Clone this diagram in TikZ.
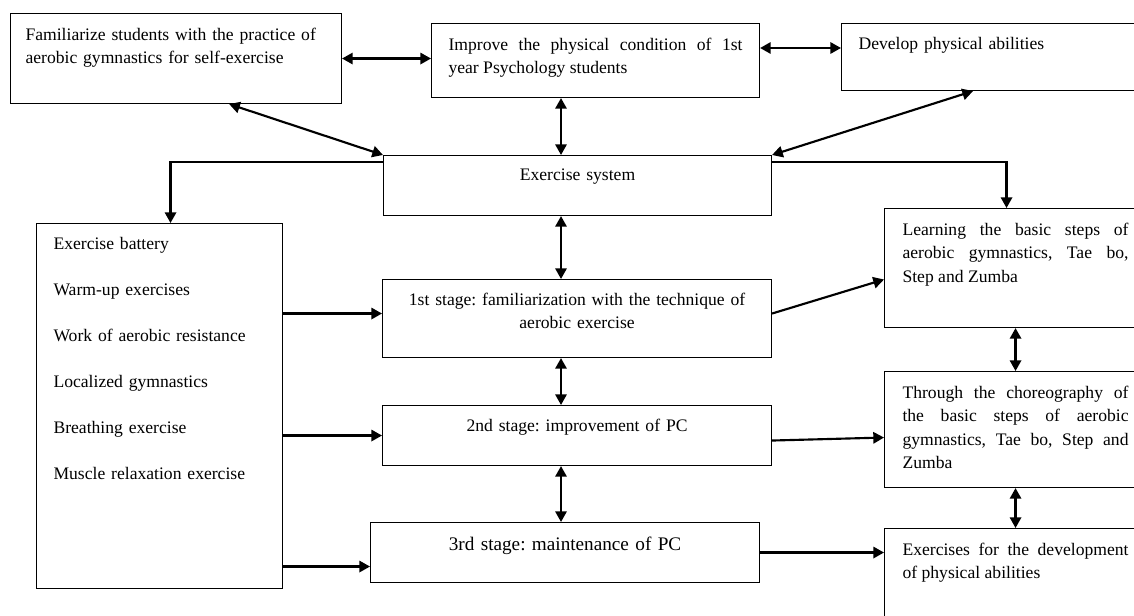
\documentclass[tikz,border=0pt]{standalone}
\usepackage{fontspec}
\setmainfont{Liberation Serif}
\usetikzlibrary{arrows.meta,calc}
\frenchspacing
\hyphenpenalty=10000
\tolerance=10000
\hbadness=10000
\tikzset{
  box/.style={draw, line width=0.8pt, anchor=north west, inner ysep=0pt, inner xsep=12.75pt,
    font=\fontsize{13.2}{17.5}\selectfont},
  link/.style={line width=1.6pt, -{Triangle[length=8pt,width=8.5pt]}},
  both/.style={line width=1.6pt, {Triangle[length=8pt,width=8.5pt]}-{Triangle[length=8pt,width=8.5pt]}}
}
\begin{document}
\begin{tikzpicture}[x=0.75pt,y=-0.75pt]
  \useasboundingbox (0,0) rectangle (1134,616);
  \node[box, inner xsep=11.25pt, text width=225.75pt, text height=20.25pt, text depth=47.25pt, align=left] (fam) at (10,13)
    {Familiarize students with the practice of\\aerobic gymnastics for self-exercise};
  \node[box, text width=220.5pt, text height=20.25pt, text depth=35.25pt, align=justify] (imp) at (431,23)
    {Improve the physical condition of 1st\linebreak year Psychology students};
  \node[box, text width=220.5pt, text height=19.5pt, text depth=30.75pt, align=left] (dev) at (841,23)
    {Develop physical abilities};
  \node[box, text width=265.5pt, text height=18.75pt, text depth=26.25pt, align=center] (sys) at (383,155)
    {Exercise system};
  \node[box, text width=159pt, text height=19.5pt, text depth=254.25pt, align=left,
    font=\fontsize{13.2}{34.5}\selectfont] (bat) at (36,223)
    {Exercise battery\\Warm-up exercises\\Work of aerobic resistance\\Localized gymnastics\\Breathing exercise\\Muscle relaxation exercise};
  \node[box, text width=266.25pt, text height=19.5pt, text depth=39pt, align=center] (s1) at (382,279)
    {1st stage: familiarization with the technique of\\aerobic exercise};
  \node[box, text width=266.25pt, text height=19.5pt, text depth=25.5pt, align=center] (s2) at (382,405)
    {2nd stage: improvement of PC};
  \node[box, text width=266.25pt, text height=21pt, text depth=24pt, align=center,
    font=\fontsize{14.4}{17.5}\selectfont] (s3) at (370,522)
    {3rd stage: maintenance of PC};
  \node[box, inner xsep=13.5pt, text width=169.5pt, text height=20.25pt, text depth=69pt, align=justify] (ln) at (884,208)
    {Learning the basic steps of\linebreak aerobic gymnastics, Tae bo,\linebreak Step and Zumba};
  \node[box, inner xsep=13.5pt, text width=169.5pt, text height=20.25pt, text depth=66.75pt, align=justify] (th) at (884,371)
    {Through the choreography of\linebreak the basic steps of aerobic\linebreak gymnastics, Tae bo, Step and\linebreak Zumba};
  \node[box, inner xsep=13.5pt, text width=169.5pt, text height=20.25pt, text depth=67.5pt, align=justify] (ex) at (884,528)
    {Exercises for the development\linebreak of physical abilities};
  \coordinate (spine) at (561,0);
  \begin{scope}[both]
    \draw (fam.east) -- (fam.east -| imp.west);
    \draw ([yshift=-18.75pt]imp.north east) -- ([yshift=-18.75pt]dev.north west);
    \draw (spine |- imp.south) -- (spine |- sys.north);
    \draw ($(fam.south west)!0.66!(fam.south east)$) -- (sys.north west);
    \draw ([xshift=99pt]dev.south west) -- (sys.north east);
    \draw (spine |- sys.south) -- (spine |- s1.north);
    \draw (spine |- s1.south) -- (spine |- s2.north);
    \draw (spine |- s2.south) -- (spine |- s3.north);
    \draw (ln.south) -- (ln.south |- th.north);
    \draw (th.south) -- (th.south |- ex.north);
  \end{scope}
  \begin{scope}[link]
    \draw ([yshift=-5.25pt]sys.north west) -| ([xshift=8.25pt]bat.north);
    \draw ([yshift=-5.25pt]sys.north east) -| ([xshift=-6.75pt]ln.north);
    \draw ([yshift=3.75pt]bat.east |- s1.west) -- ([yshift=3.75pt]s1.west);
    \draw (bat.east |- s2.west) -- (s2.west);
    \draw ([yshift=-10.5pt]bat.east |- s3.west) -- ([yshift=-10.5pt]s3.west);
    \draw ([yshift=3.75pt]s1.east) -- ([yshift=-8.6pt]ln.west);
    \draw ([yshift=-3.75pt]s2.east) -- ([yshift=-6pt]th.west);
    \draw (s3.east) -- (s3.east -| ex.west);
  \end{scope}
\end{tikzpicture}
\end{document}
